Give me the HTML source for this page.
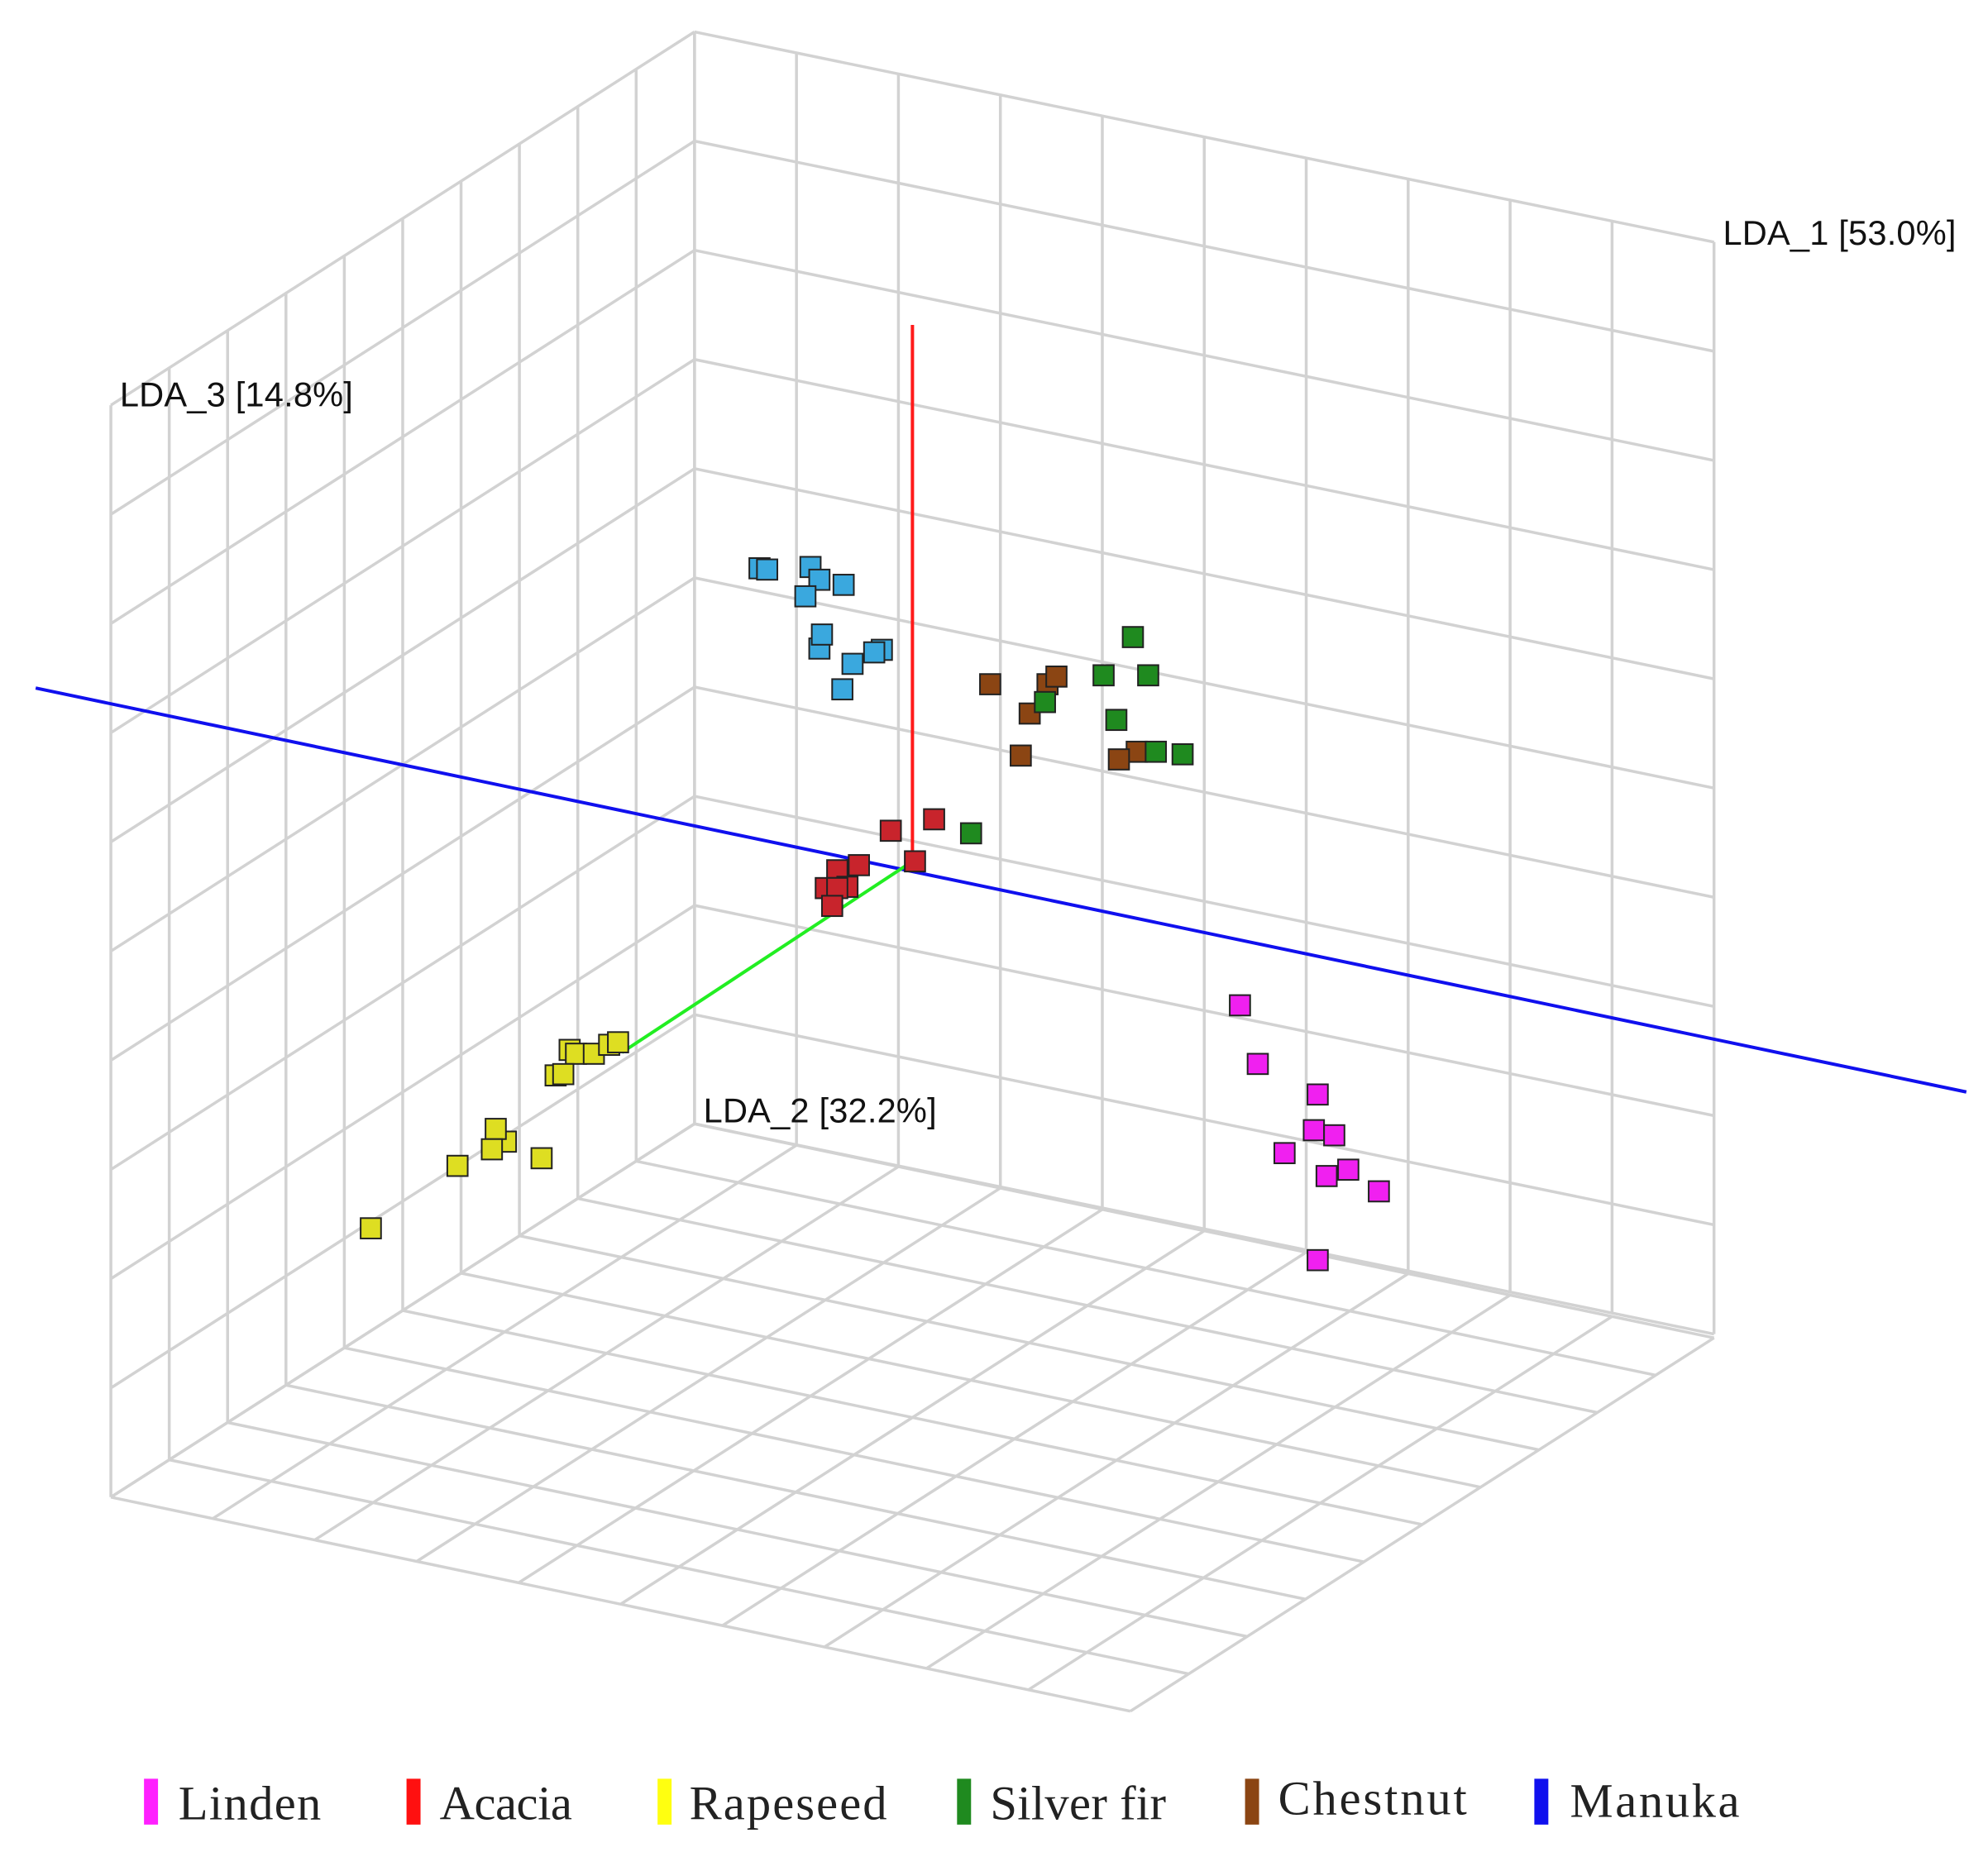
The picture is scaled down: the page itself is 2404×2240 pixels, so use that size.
<!DOCTYPE html>
<html><head><meta charset="utf-8"><style>html,body{margin:0;padding:0;background:#fff}svg{display:block}</style></head>
<body>
<svg width="2404" height="2240" viewBox="0 0 1560 1453.5" preserveAspectRatio="none" xmlns="http://www.w3.org/2000/svg">
<defs>
<path id="g" d="M0 0V10M1 0V10M2 0V10M3 0V10M4 0V10M5 0V10M6 0V10M7 0V10M8 0V10M9 0V10M10 0V10M0 0H10M0 1H10M0 2H10M0 3H10M0 4H10M0 5H10M0 6H10M0 7H10M0 8H10M0 9H10M0 10H10" fill="none" stroke="#d2d2d2" stroke-width="3.5" vector-effect="non-scaling-stroke"/>
</defs>
<rect width="1560" height="1454" fill="#fff"/>
<use href="#g" transform="matrix(45.8,-29.3,0,85.7,87,318)"/>
<use href="#g" transform="matrix(80,16.5,0,85.7,545,25)"/>
<use href="#g" transform="matrix(80,16.8,-45.8,29.3,545,882)"/>
<line x1="28" y1="540" x2="1543" y2="857" stroke="#1010ee" stroke-width="2.6"/>
<line x1="716" y1="255" x2="716" y2="676" stroke="#ff1a1a" stroke-width="2.6"/>
<line x1="488" y1="826" x2="716" y2="676" stroke="#22ee22" stroke-width="2.6"/>
<g font-family="Liberation Sans, sans-serif" font-size="27" fill="#111">
<text x="1352" y="192" textLength="183">LDA_1 [53.0%]</text>
<text x="94" y="319" textLength="183">LDA_3 [14.8%]</text>
<text x="552" y="881" textLength="183">LDA_2 [32.2%]</text>
</g>
<g stroke="#222" stroke-width="1.3">
<g fill="#3aa8de">
<rect x="588" y="438" width="16" height="16"/><rect x="594" y="439" width="16" height="16"/><rect x="628" y="437" width="16" height="16"/><rect x="635" y="447" width="16" height="16"/><rect x="624" y="460" width="16" height="16"/><rect x="654" y="451" width="16" height="16"/><rect x="635" y="501" width="16" height="16"/><rect x="637" y="490" width="16" height="16"/><rect x="684" y="502" width="16" height="16"/><rect x="678" y="504" width="16" height="16"/><rect x="661" y="513" width="16" height="16"/><rect x="653" y="533" width="16" height="16"/>
</g>
<g fill="#8b4513">
<rect x="769" y="529" width="16" height="16"/><rect x="814" y="529" width="16" height="16"/><rect x="821" y="523" width="16" height="16"/><rect x="800" y="552" width="16" height="16"/><rect x="793" y="585" width="16" height="16"/><rect x="884" y="582" width="16" height="16"/><rect x="870" y="588" width="16" height="16"/>
</g>
<g fill="#1f8a1f">
<rect x="881" y="492" width="16" height="16"/><rect x="858" y="522" width="16" height="16"/><rect x="893" y="522" width="16" height="16"/><rect x="812" y="543" width="16" height="16"/><rect x="868" y="557" width="16" height="16"/><rect x="899" y="582" width="16" height="16"/><rect x="920" y="584" width="16" height="16"/><rect x="754" y="646" width="16" height="16"/>
</g>
<g fill="#c8242c">
<rect x="691" y="644" width="16" height="16"/><rect x="725" y="635" width="16" height="16"/><rect x="710" y="668" width="16" height="16"/><rect x="666" y="671" width="16" height="16"/><rect x="649" y="675" width="16" height="16"/><rect x="640" y="689" width="16" height="16"/><rect x="657" y="688" width="16" height="16"/><rect x="649" y="689" width="16" height="16"/><rect x="645" y="703" width="16" height="16"/>
</g>
<g fill="#dede22">
<rect x="439" y="816" width="16" height="16"/><rect x="444" y="819" width="16" height="16"/><rect x="458" y="819" width="16" height="16"/><rect x="470" y="812" width="16" height="16"/><rect x="477" y="810" width="16" height="16"/><rect x="428" y="836" width="16" height="16"/><rect x="434" y="835" width="16" height="16"/><rect x="389" y="888" width="16" height="16"/><rect x="381" y="878" width="16" height="16"/><rect x="378" y="894" width="16" height="16"/><rect x="351" y="907" width="16" height="16"/><rect x="417" y="901" width="16" height="16"/><rect x="283" y="956" width="16" height="16"/>
</g>
<g fill="#f020f0">
<rect x="965" y="781" width="16" height="16"/><rect x="979" y="827" width="16" height="16"/><rect x="1026" y="851" width="16" height="16"/><rect x="1023" y="879" width="16" height="16"/><rect x="1039" y="883" width="16" height="16"/><rect x="1000" y="897" width="16" height="16"/><rect x="1050" y="910" width="16" height="16"/><rect x="1033" y="915" width="16" height="16"/><rect x="1074" y="927" width="16" height="16"/><rect x="1026" y="981" width="16" height="16"/>
</g>
</g>
<g>
<rect x="113" y="1396" width="11" height="36" fill="#ff20ff"/>
<rect x="319" y="1396" width="11" height="36" fill="#ff1010"/>
<rect x="516" y="1396" width="11" height="36" fill="#ffff10"/>
<rect x="751" y="1396" width="11" height="36" fill="#1f8a1f"/>
<rect x="977" y="1396" width="11" height="36" fill="#8b4513"/>
<rect x="1204" y="1396" width="11" height="36" fill="#1010ee"/>
</g>
<g font-family="Liberation Serif, serif" font-size="38" fill="#222">
<text x="140" y="1428" textLength="112">Linden</text>
<text x="345" y="1428" textLength="104">Acacia</text>
<text x="541" y="1428" textLength="155">Rapeseed</text>
<text x="777" y="1428" textLength="138">Silver fir</text>
<text x="1003" y="1424" textLength="148">Chestnut</text>
<text x="1232" y="1426" textLength="133">Manuka</text>
</g>
</svg>
</body></html>
